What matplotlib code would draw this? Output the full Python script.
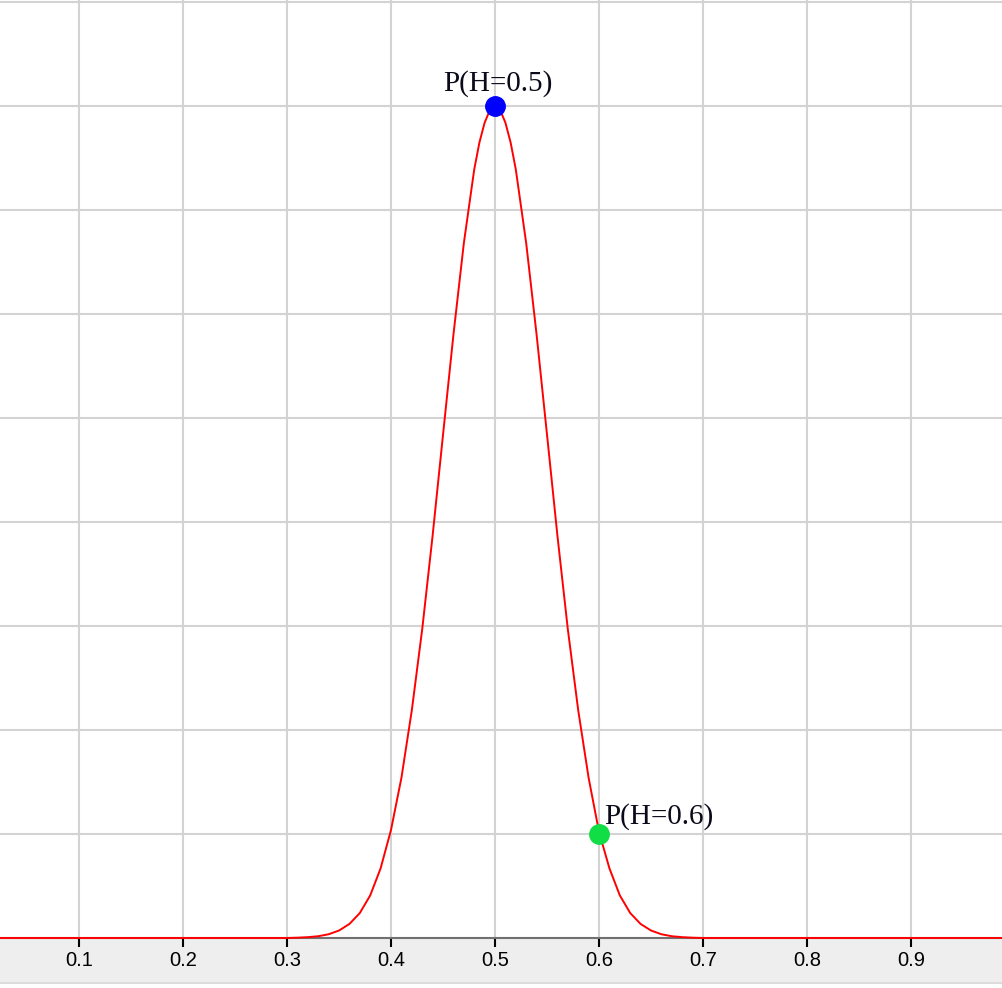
import numpy as np
import matplotlib
matplotlib.use('Agg')
import matplotlib.pyplot as plt
from matplotlib.patches import Rectangle

# likelihood curve (y in grid units, peak = 8)
h = [0.00, 0.30, 0.31, 0.32, 0.33, 0.34, 0.35, 0.36, 0.37, 0.38, 0.39,
     0.40, 0.41, 0.42, 0.43, 0.44, 0.45, 0.46, 0.47, 0.48, 0.485, 0.49, 0.495,
     0.50, 0.505, 0.51, 0.515, 0.52, 0.53, 0.54, 0.55, 0.56, 0.57, 0.58, 0.59,
     0.60, 0.61, 0.62, 0.63, 0.64, 0.65, 0.66, 0.67, 0.68, 0.69, 0.70, 1.00]
p = [0.0, 0.0, 0.003, 0.008, 0.017, 0.036, 0.072, 0.135, 0.24, 0.41, 0.67,
     1.04, 1.54, 2.19, 2.97, 3.87, 4.84, 5.80, 6.68, 7.39, 7.65, 7.84, 7.96,
     8.0, 7.96, 7.84, 7.65, 7.39, 6.68, 5.80, 4.84, 3.87, 2.97, 2.19, 1.54,
     1.02, 0.67, 0.41, 0.24, 0.135, 0.072, 0.036, 0.017, 0.008, 0.003, 0.0, 0.0]

# highlighted points
pt_x = [0.5, 0.6]
pt_y = [8.0, 1.0]
pt_lab = ['P(H=0.5)', 'P(H=0.6)']
pt_col = ['#0000ff', '#11dd44']

xticks = [0.1, 0.2, 0.3, 0.4, 0.5, 0.6, 0.7, 0.8, 0.9]

W, H = 1002, 988
fig = plt.figure(figsize=(W / 100, H / 100), dpi=100)
ax = fig.add_axes([0, (H - 938) / H, 1, 938 / H])

# grey band under the axis
fig.patches.append(Rectangle((0, (H - 982) / H), 1, 44 / H, transform=fig.transFigure,
                             facecolor='#eeeeee', edgecolor='none', zorder=-2))
fig.patches.append(Rectangle((0, (H - 984) / H), 1, 2 / H, transform=fig.transFigure,
                             facecolor='#dcdcdc', edgecolor='none', zorder=-2))

ax.set_xlim(0.024, 0.9875)
ax.set_ylim(0, 9.02)

for gx in xticks:
    ax.axvline(gx, color='#d3d3d3', lw=1.5, zorder=1)
for gy in range(1, 10):
    ax.axhline(gy, color='#d3d3d3', lw=1.5, zorder=1)

ax.plot(h, p, color='red', lw=1.4, zorder=3, clip_on=False)

ax.plot(pt_x[0], pt_y[0], 'o', ms=14, color=pt_col[0], zorder=4)
ax.plot(pt_x[1], pt_y[1], 'o', ms=14, color=pt_col[1], zorder=4)
ax.annotate(pt_lab[0], (pt_x[0], pt_y[0]), xytext=(3, 15), textcoords='offset pixels',
            ha='center', va='baseline', fontsize=21, family='Liberation Serif', color='#0a0a1a')
ax.annotate(pt_lab[1], (pt_x[1], pt_y[1]), xytext=(5, 10), textcoords='offset pixels',
            ha='left', va='baseline', fontsize=21, family='Liberation Serif', color='#0a0a1a')

for s in ['left', 'right', 'top']:
    ax.spines[s].set_visible(False)
ax.spines['bottom'].set_color('#707070')
ax.spines['bottom'].set_linewidth(1.5)
ax.spines['bottom'].set_zorder(2)

ax.set_xticks(xticks)
ax.set_xticklabels([str(t) for t in xticks], fontsize=14.5, family='Liberation Sans')
ax.tick_params(axis='x', direction='out', length=6.5, width=1.5, color='black', pad=3)
ax.set_yticks([])
ax.patch.set_alpha(0)

fig.savefig('out.png', dpi=100)
